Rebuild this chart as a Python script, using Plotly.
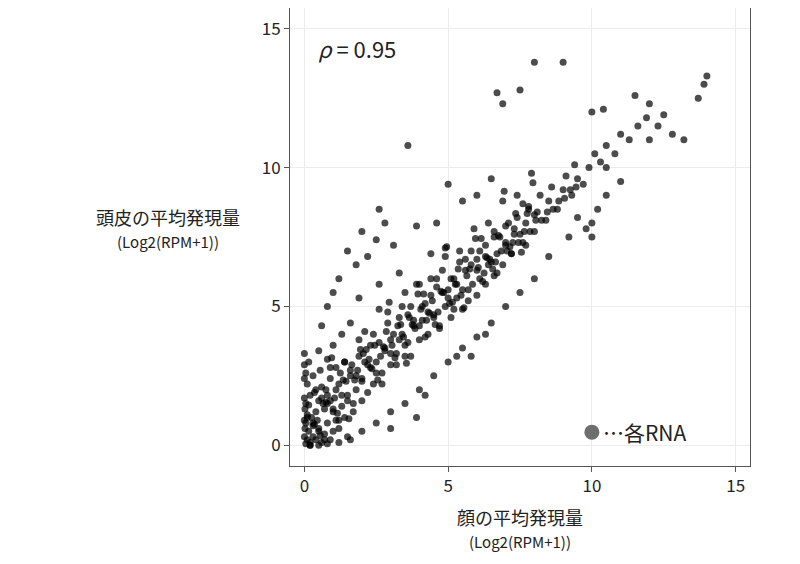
import plotly.graph_objects as go

# mean expression, Log2(RPM+1): face (x) vs scalp (y)
face = [0.05,0.1,0.2,0.3,0.15,0.05,0.1,0.05,0.2,0.1,0.05,0.15,0.3,0.4,0.5,0.6,0.7,0.8,0.9,1.0,
        0.4,0.5,0.6,0.3,0.7,0.8,0.9,1.0,1.1,1.2,1.3,1.4,1.5,1.2,1.1,0.8,0.5,1.0,1.4,1.6,
        1.7,1.8,2.0,2.0,1.9,2.2,2.4,2.5,2.3,2.1,1.6,1.3,2.7,2.8,3.0,3.0,2.9,2.6,3.2,3.4,
        3.3,3.5,3.6,3.8,3.7,3.5,4.0,4.1,4.2,4.0,4.3,4.5,4.4,4.6,4.7,4.9,5.0,4.8,5.1,5.3,
        5.2,5.4,5.5,5.7,5.6,5.8,6.0,6.1,6.0,6.3,6.4,6.3,6.6,6.7,6.6,6.9,7.0,7.0,7.2,7.3,
        7.4,7.6,7.7,7.8,8.0,8.1,8.2,8.4,8.5,8.6,8.8,9.0,9.1,9.3,9.5,9.4,9.7,9.9,10.1,10.3,
        10.5,10.8,11.0,11.3,11.6,11.9,12.3,12.5,10.0,9.8,10.0,10.5,13.7,13.9,14.0,13.2,12.8,12.0,11.5,10.4,
        9.0,8.0,7.5,6.7,6.9,10.0,3.6,2.6,2.8,2.0,1.5,1.2,1.8,2.2,3.1,3.9,4.6,5.5,6.0,6.5,
        5.0,2.5,0.8,0.6,1.0,3.0,4.0,4.5,5.0,5.5,6.0,6.5,5.8,6.3,4.2,3.5,2.5,2.0,3.0,1.5,
        5.3,7.0,7.5,8.0,8.5,9.2,10.2,11.0,10.5,9.5,12.0,0.2,0.5,0.8,1.2,1.6,0.0,0.0,0.0,0.0,
        0.0,0.0,0.02,0.02,0.25,0.35,0.45,0.55,0.65,0.75,0.9,1.05,1.25,1.45,1.65,1.85,2.05,2.25,2.45,2.65,
        2.85,3.05,3.25,3.45,3.65,3.85,4.05,4.25,4.45,4.65,4.85,5.05,5.25,5.45,5.65,5.85,6.05,6.25,6.45,6.65,
        6.85,7.05,7.25,7.45,7.65,7.85,8.05,8.25,8.45,8.65,8.85,9.05,9.25,9.45,1.9,2.6,3.3,4.4,4.9,3.9,
        0.1,0.2,0.3,0.4,0.5,0.6,0.7,0.8,0.9,1.0,1.1,1.2,1.3,1.4,1.5,1.6,1.7,1.8,1.9,2.0,
        2.1,2.2,2.3,2.4,2.5,2.6,2.7,2.8,2.9,3.0,3.1,3.2,3.3,3.4,3.5,3.6,3.7,3.8,3.9,4.0,
        4.1,4.2,4.3,4.4,4.5,4.6,4.7,4.8,4.9,5.0,5.1,5.2,5.3,5.4,5.5,5.6,5.7,5.8,5.9,6.0,
        6.1,6.2,6.3,6.4,6.5,6.6,6.7,6.8,6.9,7.0,7.1,7.2,7.3,7.4,7.5,7.6,7.7,7.8,7.9,8.0,
        0.15,0.35,0.55,0.75,0.95,1.15,1.35,1.55,1.75,1.95,2.15,2.35,2.55,2.75,2.95,3.15,3.35,3.55,3.75,3.95,
        4.15,4.35,4.55,4.75,4.95,5.15,5.35,5.55,5.75,5.95,6.15,6.35,6.55,6.75,6.95,7.15,7.35,7.55,7.75,7.95]
scalp = [0.05,0.2,0.1,0.3,0.5,0.8,1.1,1.5,1.8,2.2,2.6,3.0,0.7,0.2,0.5,0.1,0.4,0.8,0.2,0.5,
         1.2,1.6,2.1,2.5,1.3,1.8,2.4,1.2,0.9,0.6,1.4,1.0,1.8,2.2,2.8,3.1,3.4,3.6,3.0,2.5,
         1.5,2.0,1.6,2.4,3.2,2.9,2.2,3.0,3.6,4.1,4.4,4.0,2.6,3.4,2.9,3.8,4.4,4.9,3.3,4.0,
         4.6,3.2,3.7,4.3,5.0,5.5,3.8,4.5,5.1,5.8,4.0,4.7,5.4,6.0,4.3,5.0,5.6,6.3,4.6,5.3,
         6.0,6.6,4.9,5.6,6.3,7.0,5.4,6.0,6.7,5.8,6.5,7.2,6.1,6.9,7.5,6.5,7.2,7.9,6.9,7.6,
         8.2,7.3,8.0,8.6,7.7,8.4,9.0,8.1,8.8,9.3,8.5,9.2,9.7,9.0,9.6,10.1,9.4,10.0,10.5,10.2,
         10.8,10.5,11.2,11.0,11.5,11.8,11.5,11.9,8.0,7.8,7.5,10.0,12.5,13.0,13.3,11.0,11.2,12.3,12.6,12.1,
         13.8,13.8,12.8,12.7,12.3,12.0,10.8,8.5,8.0,7.7,7.0,6.0,6.5,6.8,7.2,7.9,8.0,8.8,9.0,9.6,
         9.4,7.4,5.0,4.3,5.5,1.2,2.0,2.5,3.0,3.5,3.9,4.4,3.2,4.0,1.8,1.5,0.8,0.5,0.6,0.3,
         3.2,5.0,5.5,6.0,6.8,7.5,8.5,9.5,9.0,8.2,11.0,0.0,0.0,0.05,0.1,0.2,0.3,0.9,1.7,2.4,
         2.9,3.3,0.6,1.3,1.0,1.9,0.9,2.7,1.5,2.0,1.6,1.7,2.6,2.3,2.9,2.7,3.3,3.1,3.6,3.2,
         4.1,3.6,4.3,3.9,4.6,4.2,4.9,4.5,5.2,4.8,5.5,5.1,5.8,5.4,6.1,5.8,6.4,6.2,6.7,6.6,
         7.0,7.0,7.3,7.3,7.7,7.7,8.1,8.1,8.4,8.5,8.8,8.9,9.2,9.3,5.3,5.8,6.2,6.9,7.1,1.0,
         1.0,0.0,0.8,2.0,0.6,1.7,0.2,1.5,2.8,1.3,2.0,0.9,1.8,3.0,1.6,2.7,1.2,2.5,3.8,2.3,
         3.0,1.9,2.8,4.0,2.6,3.7,2.2,3.5,4.8,3.3,4.0,2.9,3.8,5.0,3.6,4.7,3.2,4.5,5.8,4.3,
         5.0,3.9,4.8,6.0,4.6,5.7,4.2,5.5,6.8,5.3,6.0,4.9,5.8,7.0,5.6,6.7,5.2,6.5,7.8,6.3,
         7.0,5.9,6.8,8.0,6.6,7.7,6.2,7.5,8.8,7.3,8.0,6.9,7.8,9.0,7.6,8.7,7.2,8.5,9.8,8.3,
         1.45,0.75,0.35,1.55,3.15,1.15,2.35,0.95,2.35,3.45,3.45,2.75,2.35,3.55,5.15,3.15,4.35,2.95,4.35,5.45,
         5.45,4.75,4.35,5.55,7.15,5.15,6.35,4.95,6.35,7.45,7.45,6.75,6.35,7.55,9.15,7.15,8.35,6.95,8.35,9.45]

rho_text = "<i>ρ</i> = 0.95"
legend_text = "…各RNA"
font = "Noto Sans CJK JP"

fig = go.Figure()
fig.add_trace(go.Scatter(x=face, y=scalp, mode="markers",
                         marker=dict(color="rgba(0,0,0,0.7)", size=7, line_width=0),
                         showlegend=False))
fig.add_trace(go.Scatter(x=[10], y=[0.47], mode="markers",
                         marker=dict(color="#6e6e6e", size=15), showlegend=False))
fig.add_annotation(x=10.3, y=0.47, text=legend_text, showarrow=False, xanchor="left",
                   font=dict(size=21, color="#222"))
fig.add_annotation(x=0.4, y=14.3, text=rho_text, showarrow=False, xanchor="left",
                   font=dict(size=22, color="#222"))
fig.add_annotation(xref="paper", yref="paper", x=-0.265, y=0.52, xanchor="center",
                   showarrow=False,
                   text="頭皮の平均発現量<br><span style='font-size:15px'>(Log2(RPM+1))</span>",
                   font=dict(size=18, color="#222"))

axis = dict(showgrid=True, gridcolor="#ececec", zeroline=False, showline=True,
            linecolor="#555", mirror=True, ticks="outside", ticklen=5, tickcolor="#555",
            tickvals=[0, 5, 10, 15], tickfont=dict(size=17, color="#222"))
fig.update_xaxes(axis, range=[-0.5, 15.5],
                 title=dict(text="顔の平均発現量<br><span style='font-size:15px'>(Log2(RPM+1))</span>",
                            font=dict(size=18, color="#222")))
fig.update_yaxes(axis, range=[-0.75, 15.75])
fig.update_layout(width=800, height=564, plot_bgcolor="white", paper_bgcolor="white",
                  font=dict(family=font), margin=dict(l=282, r=58, t=0, b=106))
fig.write_html("out.html")
